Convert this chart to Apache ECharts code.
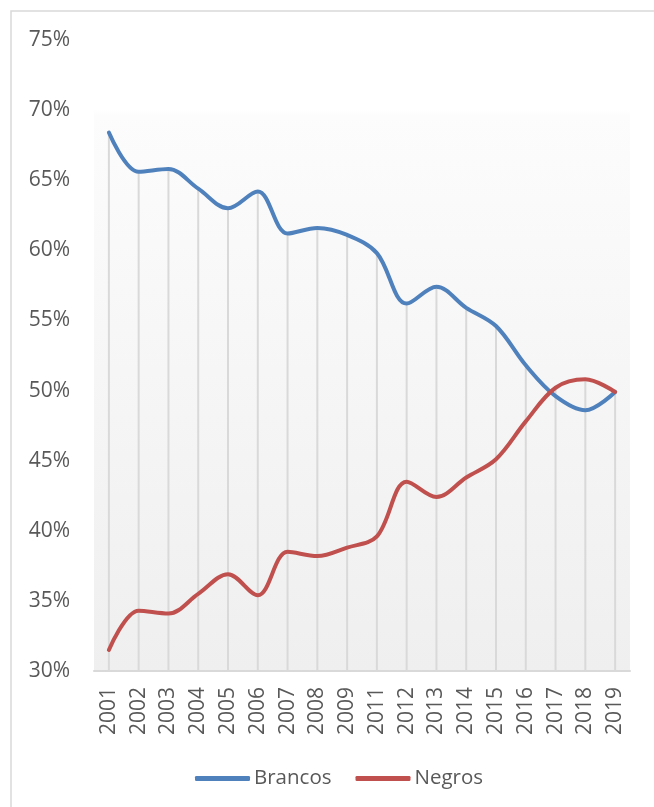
<!DOCTYPE html>
<html>
<head>
<meta charset="utf-8">
<script src="https://cdn.jsdelivr.net/npm/echarts@6/dist/echarts.min.js"></script>
<style>
  html, body { margin: 0; padding: 0; background: #ffffff; }
  #chart { width: 654px; height: 807px; }
</style>
</head>
<body>
<div id="chart"></div>
<script>
const years = ['2001','2002','2003','2004','2005','2006','2007','2008','2009','2011','2012','2013','2014','2015','2016','2017','2018','2019'];
const brancos = [68.4, 65.6, 65.8, 64.4, 63.0, 64.2, 61.2, 61.6, 61.1, 59.8, 56.2, 57.4, 55.9, 54.6, 51.8, 49.6, 48.6, 49.9];
const negros  = [31.5, 34.3, 34.1, 35.5, 36.9, 35.4, 38.5, 38.2, 38.8, 39.6, 43.5, 42.4, 43.8, 45.1, 47.8, 50.2, 50.8, 49.9];
const yTicks = { min: 30, max: 75, step: 5 };

const dropTop = years.map((_, i) => Math.max(brancos[i], negros[i]));
const FONT = "'Open Sans', 'Liberation Sans', Arial, sans-serif";

const chart = echarts.init(document.getElementById('chart'), null, { renderer: 'canvas' });
chart.setOption({
  animation: false,
  backgroundColor: '#ffffff',
  graphic: [{
    type: 'rect',
    silent: true,
    z: -10,
    shape: { x: 11, y: 11, width: 760, height: 900 },
    style: { fill: 'none', stroke: '#d9d9d9', lineWidth: 1.5 }
  }],
  grid: {
    left: 94, top: 40, width: 536, height: 631,
    show: true,
    borderWidth: 0,
    backgroundColor: new echarts.graphic.LinearGradient(0, 0, 0, 1, [
      { offset: 0, color: '#ffffff' },
      { offset: 0.11, color: '#ffffff' },
      { offset: 0.12, color: '#fcfcfc' },
      { offset: 1, color: '#efefef' }
    ])
  },
  legend: {
    data: ['Brancos', 'Negros'],
    left: 190, top: 763,
    icon: 'roundRect',
    itemWidth: 55, itemHeight: 5,
    itemGap: 24,
    textStyle: { fontFamily: FONT, fontSize: 20.5, color: '#595959', padding: [0, 0, 0, -1] }
  },
  xAxis: {
    type: 'category',
    data: years,
    boundaryGap: true,
    axisLine: { show: true, lineStyle: { color: '#d9d9d9', width: 2 } },
    axisTick: { show: false },
    splitLine: { show: false },
    axisLabel: { rotate: 90, margin: 16, fontFamily: FONT, fontSize: 21, color: '#595959', interval: 0 }
  },
  yAxis: {
    type: 'value',
    min: yTicks.min, max: yTicks.max, interval: yTicks.step,
    axisLine: { show: false },
    axisTick: { show: false },
    splitLine: { show: false },
    axisLabel: { formatter: '{value}%', margin: 24, fontFamily: FONT, fontSize: 21, color: '#595959' }
  },
  series: [
    {
      name: 'drop',
      type: 'bar',
      data: dropTop,
      barWidth: 2,
      itemStyle: { color: '#d9d9d9' },
      silent: true,
      z: 1
    },
    {
      name: 'Brancos',
      type: 'line',
      data: brancos,
      smooth: 0.35,
      showSymbol: false,
      lineStyle: { color: '#4f81bd', width: 4, cap: 'round' },
      itemStyle: { color: '#4f81bd' },
      z: 3
    },
    {
      name: 'Negros',
      type: 'line',
      data: negros,
      smooth: 0.35,
      showSymbol: false,
      lineStyle: { color: '#c0504d', width: 4, cap: 'round' },
      itemStyle: { color: '#c0504d' },
      z: 4
    }
  ]
});
</script>
</body>
</html>
